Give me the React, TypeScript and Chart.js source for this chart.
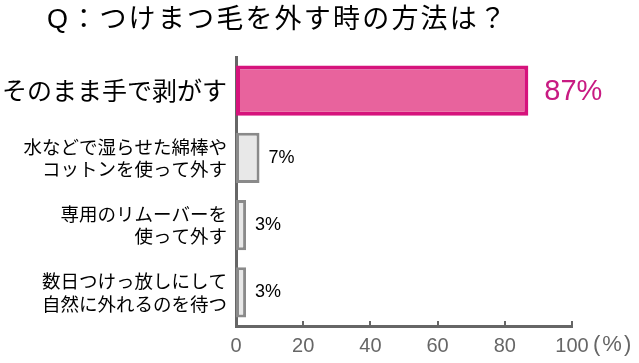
import React, { useEffect, useRef } from "react";
import { Chart, registerables } from "chart.js";

Chart.register(...registerables);

const titleText = "Q：つけまつ毛を外す時の方法は？";
const categories: (string | string[])[] = [
  "そのまま手で剥がす",
  ["水などで湿らせた綿棒や", "コットンを使って外す"],
  ["専用のリムーバーを", "使って外す"],
  ["数日つけっ放しにして", "自然に外れるのを待つ"],
];
const values = [87, 7, 3, 3];
const valueLabels = ["87%", "7%", "3%", "3%"];
const xTicks = [0, 20, 40, 60, 80, 100];
const unitLabel = "(%)";

const FONT = "'Liberation Sans', 'Noto Sans CJK JP', sans-serif";
const JP = "'Noto Sans CJK JP', sans-serif";

const extrasPlugin = {
  id: "extras",
  afterDraw(chart: any) {
    const ctx = chart.ctx as CanvasRenderingContext2D;
    const xs = chart.scales.x;
    const area = chart.chartArea;
    ctx.save();
    ctx.strokeStyle = "#666666";
    ctx.lineWidth = 2;
    xTicks.forEach((t) => {
      if (t === 0) return;
      const px = Math.round(xs.getPixelForValue(t));
      ctx.beginPath();
      ctx.moveTo(px, area.bottom);
      ctx.lineTo(px, area.bottom - 5);
      ctx.stroke();
    });
    ctx.fillStyle = "#666666";
    ctx.font = `22px ${FONT}`;
    ctx.textAlign = "left";
    ctx.textBaseline = "middle";
    (ctx as any).letterSpacing = "2px";
    ctx.fillText(unitLabel, xs.getPixelForValue(100) + 21, area.bottom + 19);
    ctx.fillStyle = "#000000";
    ctx.font = `27px ${FONT}`;
    (ctx as any).letterSpacing = "2.2px";
    ctx.textAlign = "left";
    ctx.textBaseline = "middle";
    ctx.fillText(titleText, 47, 21);
    (ctx as any).letterSpacing = "0px";
    ctx.restore();
  },
  afterDatasetsDraw(chart: any) {
    const ctx = chart.ctx as CanvasRenderingContext2D;
    const meta = chart.getDatasetMeta(0);
    ctx.save();
    ctx.textAlign = "left";
    ctx.textBaseline = "middle";
    meta.data.forEach((bar: any, i: number) => {
      if (i === 0) {
        ctx.font = `29px ${FONT}`;
        ctx.fillStyle = "#c81a82";
        ctx.fillText(valueLabels[i], bar.x + 16, bar.y + 1);
      } else {
        ctx.font = `18px ${FONT}`;
        ctx.fillStyle = "#000000";
        ctx.fillText(valueLabels[i], bar.x + 9, bar.y);
      }
    });
    ctx.restore();
  },
};

export default function App() {
  const ref = useRef<HTMLCanvasElement>(null);
  useEffect(() => {
    document.body.style.margin = "0";
    const chart = new Chart(ref.current!, {
      type: "bar",
      data: {
        labels: categories,
        datasets: [
          {
            data: values,
            backgroundColor: values.map((_, i) => (i === 0 ? "#e8639d" : "#e8e8e8")),
            borderColor: values.map((_, i) => (i === 0 ? "#d6137c" : "#8a8a8a")),
            borderWidth: values.map((_, i) => (i === 0 ? 4 : 3)),
            borderSkipped: false,
            barPercentage: 0.75,
            categoryPercentage: 1,
          },
        ],
      },
      options: {
        indexAxis: "y",
        animation: false,
        responsive: false,
        maintainAspectRatio: false,
        layout: { padding: { top: 57, right: 67, left: 0, bottom: 0 } },
        plugins: {
          legend: { display: false },
          tooltip: { enabled: false },
          title: { display: false },
        },
        scales: {
          x: {
            min: 0,
            max: 100,
            afterBuildTicks: (scale: any) => {
              scale.ticks = xTicks.map((v) => ({ value: v }));
            },
            afterFit: (scale: any) => {
              scale.height = 37;
            },
            grid: { display: false, drawTicks: false },
            border: { display: true, color: "#666666", width: 3 },
            ticks: {
              color: "#666666",
              font: { size: 20, family: FONT },
              padding: 8,
              maxRotation: 0,
            },
          },
          y: {
            afterFit: (scale: any) => {
              scale.width = 236;
            },
            grid: { display: false, drawTicks: false },
            border: { display: true, color: "#666666", width: 3 },
            ticks: {
              color: "#000000",
              padding: 9,
              font: (c: any) => ({
                size: c.index === 0 ? 25 : 18.5,
                family: JP,
                lineHeight: 1.2,
              }),
            },
          },
        },
      },
      plugins: [extrasPlugin],
    });
    return () => chart.destroy();
  }, []);
  return <canvas ref={ref} width={639} height={363} style={{ display: "block" }} />;
}
